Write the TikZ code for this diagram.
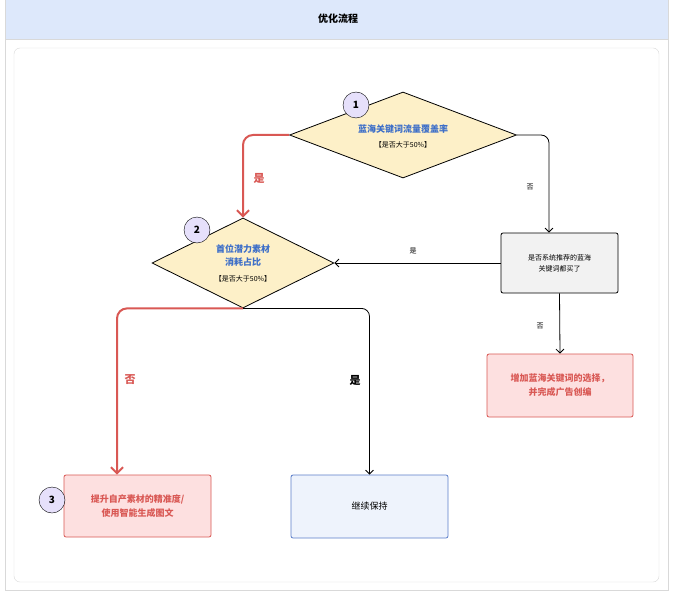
\documentclass[tikz,border=0pt]{standalone}
\usepackage{fontspec}
\setmainfont{Noto Sans CJK SC}
\usetikzlibrary{shapes.geometric,arrows.meta,positioning}
\definecolor{headblue}{RGB}{221,232,251}
\definecolor{diafill}{RGB}{253,240,200}
\definecolor{numfill}{RGB}{230,224,251}
\definecolor{redline}{RGB}{217,88,84}
\definecolor{redfill}{RGB}{253,224,224}
\definecolor{bluetext}{RGB}{60,110,200}
\definecolor{bluefill}{RGB}{238,243,252}
\definecolor{bluedraw}{RGB}{91,126,201}
\begin{document}
\begin{tikzpicture}[x=1pt,y=-1pt,
    every node/.style={font=\fontsize{8}{10}\selectfont},
    decision/.style={diamond, draw, fill=diafill, aspect=2.6, inner sep=0pt, line width=0.8pt},
    procbox/.style={rectangle, rounded corners=2pt, draw, line width=0.8pt, align=center},
    num/.style={circle, draw, fill=numfill, minimum size=26pt, inner sep=0pt, font=\bfseries\fontsize{10}{12}\selectfont},
    flow/.style={-{Straight Barb[length=4pt]}, line width=0.8pt, rounded corners=8pt},
    redflow/.style={-{Straight Barb[length=6pt]}, line width=2pt, redline, rounded corners=10pt},
    lab/.style={font=\fontsize{7}{9}\selectfont}]
    \useasboundingbox (0,0) rectangle (676,596);
    % frame and header
    \draw[gray!30, fill=white] (5,0) rectangle (668,590);
    \fill[headblue] (5.5,0.5) rectangle (667.5,39);
    \draw[gray!30] (5,39) -- (668,39);
    \node[font=\bfseries\fontsize{10}{12}\selectfont] (title) at (338,19) {优化流程};
    \draw[gray!30, rounded corners=6pt] (14,48) rectangle (659,582);

    % Decisions
    \node[decision, minimum width=227pt, minimum height=86pt] (coverage) at (403,135) {};
    \node[align=center, text=bluetext, font=\bfseries\fontsize{9}{11}\selectfont] (coverageT) at (403,129) {蓝海关键词流量覆盖率};
    \node[lab] (coverageS) at (403,145) {【是否大于50\%】};
    \node[num] (one) at (356,105) {1};

    \node[decision, minimum width=182pt, minimum height=90pt] (share) at (243,263) {};
    \node[align=center, text=bluetext, font=\bfseries\fontsize{9}{13}\selectfont] (shareT) at (243,256) {首位潜力素材\\消耗占比};
    \node[lab] (shareS) at (243,279) {【是否大于50\%】};
    \node[num] (two) at (197,230) {2};

    % Boxes
    \node[procbox, fill=gray!10, minimum width=117pt, minimum height=60pt, font=\fontsize{7}{11}\selectfont] (bought) at (559.5,263) {是否系统推荐的蓝海\\关键词都买了};
    \node[procbox, draw=redline, fill=redfill, text=redline, minimum width=146pt, minimum height=63pt, font=\bfseries\fontsize{9}{14}\selectfont] (addkw) at (560,385.5) {增加蓝海关键词的选择，\\并完成广告创编};
    \node[procbox, draw=redline, fill=redfill, text=redline, minimum width=147pt, minimum height=62pt, font=\bfseries\fontsize{9}{14}\selectfont] (improve) at (137.5,506) {提升自产素材的精准度/\\使用智能生成图文};
    \node[num] (three) at (52,500) {3};
    \node[procbox, draw=bluedraw, fill=bluefill, minimum width=157pt, minimum height=63pt, font=\fontsize{9}{11}\selectfont] (keep) at (369.5,506.5) {继续保持};

    % Connectors
    \draw[redflow] (coverage.west) -| (share.north);
    \node[text=redline, font=\bfseries\fontsize{11}{13}\selectfont] (yes1) at (259,178) {是};
    \draw[flow] (coverage.east) -| (bought.north -| 549,0);
    \node[lab] (no1) at (530,187) {否};
    \draw[flow] (bought.west) -- (share.east);
    \node[lab] (yes2) at (413,251) {是};
    \draw[flow] (bought.south) -- (addkw.north);
    \node[lab] (no2) at (540,326) {否};
    \draw[redflow] (share.south) -| (improve.north -| 117,0);
    \node[text=redline, font=\bfseries\fontsize{11}{13}\selectfont] (no3) at (130,380) {否};
    \draw[flow] (share.south) -| (keep.north);
    \node[font=\bfseries\fontsize{11}{13}\selectfont] (yes3) at (355,380) {是};
\end{tikzpicture}
\end{document}
